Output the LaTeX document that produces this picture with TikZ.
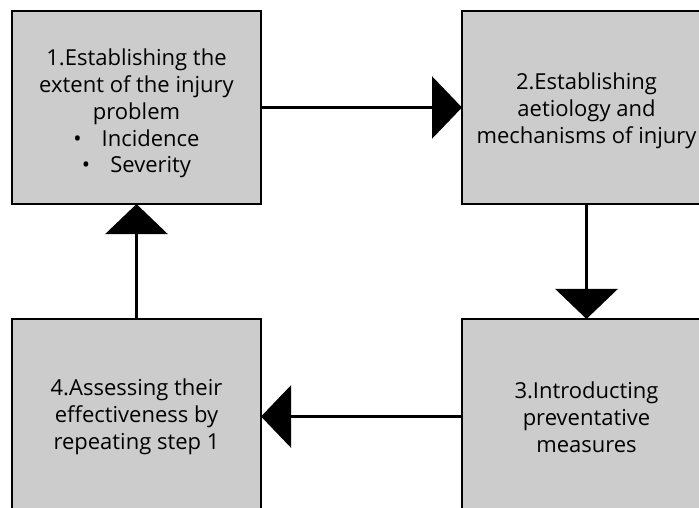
\documentclass[tikz,border=0pt]{standalone}
\usepackage{fontspec}
\setmainfont{Open Sans}
\usetikzlibrary{arrows.meta}
\begin{document}
\begin{tikzpicture}[x=1bp,y=-1bp,
  stepbox/.style={draw=black,line width=2.2bp,fill=black!20,outer sep=0pt,
    minimum width=249bp},
  steptext/.style={align=center,text=black,inner sep=0pt,
    font=\fontsize{22bp}{26.8bp}\selectfont},
  conn/.style={line width=2.8bp,-{Triangle[length=30bp,width=62bp]}}]
  \useasboundingbox (0,0) rectangle (699,508);
  \clip (0,0) rectangle (699,508);
  \fill[white] (0,0) rectangle (699,508);
  % the four boxes of the cycle
  \node[stepbox,minimum height=193bp] (s1) at (136.5,107.5) {};
  \node[stepbox,minimum height=193bp] (s2) at (586.5,107.5) {};
  \node[stepbox,minimum height=195bp] (s3) at (586.5,416.5) {};
  \node[stepbox,minimum height=195bp] (s4) at (136.5,416.5) {};
  % their texts
  \node[steptext] (t1) at (136.5,113.5)
    {1.Establishing the\\extent of the injury\\problem\\
     \textbullet\hspace{20bp}Incidence\\\textbullet\hspace{20bp}Severity};
  \node[steptext] (t2) at (586.5,110.5)
    {2.Establishing\\aetiology and\\mechanisms of injury};
  \node[steptext] (t3) at (586.5,417.5)
    {3.Introducting\\preventative\\measures};
  \node[steptext] (t4) at (136.5,417)
    {4.Assessing their\\effectiveness by\\repeating step 1};
  % connectors
  \draw[conn] (s1.east) -- (s2.west);
  \draw[conn] (s2.south) -- (s3.north);
  \draw[conn] (s3.west) -- (s4.east);
  \draw[conn] (s4.north) -- (s1.south);
\end{tikzpicture}
\end{document}
